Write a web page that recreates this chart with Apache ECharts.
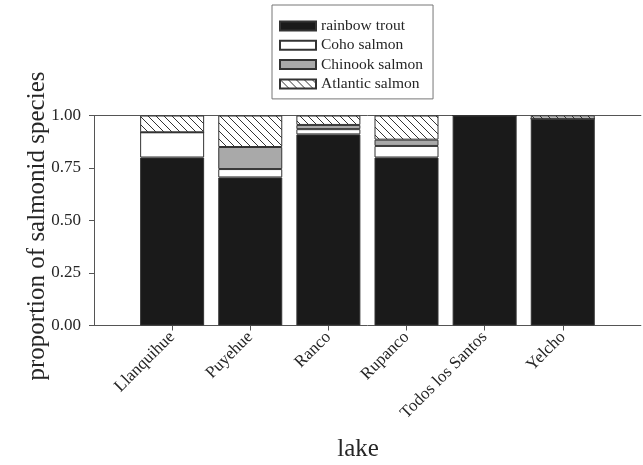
<!DOCTYPE html>
<html>
<head>
<meta charset="utf-8">
<script src="https://cdn.jsdelivr.net/npm/echarts@6/dist/echarts.min.js"></script>
<style>
  html, body { margin: 0; padding: 0; background: #fff; }
  #chart { width: 643px; height: 465px; }
</style>
</head>
<body>
<div id="chart"></div>
<script>
// Lakes and the proportion of each salmonid species caught in them
const lakes = ['Llanquihue', 'Puyehue', 'Ranco', 'Rupanco', 'Todos los Santos', 'Yelcho'];
const rainbowTrout = [0.80, 0.705, 0.91, 0.80, 1.00, 0.985];
const cohoSalmon = [0.12, 0.04, 0.025, 0.055, 0, 0];
const chinookSalmon = [0, 0.105, 0.02, 0.03, 0, 0];
const atlanticSalmon = [0.08, 0.15, 0.045, 0.115, 0, 0.015];
const yTicks = [0, 0.25, 0.5, 0.75, 1.0];

const FONT = "'Liberation Serif', 'Times New Roman', serif";
const TEXT = '#262626';
const LINE = '#555';

// Diagonal hatch fill for Atlantic salmon
function makeHatch() {
  const c = document.createElement('canvas');
  const s = 8;
  c.width = s; c.height = s;
  const g = c.getContext('2d');
  g.fillStyle = '#fff';
  g.fillRect(0, 0, s, s);
  g.strokeStyle = '#333';
  g.lineWidth = 1;
  g.beginPath();
  g.moveTo(0, 0); g.lineTo(s, s);
  g.moveTo(-2, s - 2); g.lineTo(2, s + 2);
  g.moveTo(s - 2, -2); g.lineTo(s + 2, 2);
  g.stroke();
  return c;
}
const hatch = { image: makeHatch(), repeat: 'repeat' };

// Empty slot at each end so the lakes sit one unit in from the frame
const cats = [''].concat(lakes, ['']);
const pad = arr => ['-'].concat(arr, ['-']);

function barSeries(name, values, color) {
  return {
    name: name,
    type: 'bar',
    stack: 'total',
    barWidth: 64,
    data: pad(values),
    itemStyle: { color: color, borderColor: '#333', borderWidth: 1 }
  };
}

const chart = echarts.init(document.getElementById('chart'));
chart.setOption({
  animation: false,
  backgroundColor: '#fff',
  textStyle: { fontFamily: FONT, color: TEXT },
  grid: { left: 94, top: 115.5, width: 551, height: 210 },
  legend: {
    orient: 'vertical',
    left: 272, top: 5,
    padding: [13, 10, 7, 7],
    itemWidth: 36, itemHeight: 9, itemGap: 3.3,
    borderColor: '#777', borderWidth: 1,
    icon: 'rect',
    textStyle: { fontFamily: FONT, fontSize: 15.5, lineHeight: 15.5, color: TEXT },
    data: ['rainbow trout', 'Coho salmon', 'Chinook salmon', 'Atlantic salmon']
  },
  xAxis: [
    {
      type: 'category',
      data: cats,
      boundaryGap: false,
      axisLine: { lineStyle: { color: LINE, width: 1 } },
      axisTick: {
        length: 5,
        lineStyle: { color: LINE },
        interval: (i, v) => v !== ''
      },
      axisLabel: {
        rotate: 45, margin: 9, fontSize: 17, fontFamily: FONT, color: TEXT,
        interval: 0
      },
      splitLine: { show: false }
    },
    {
      // top edge of the frame
      type: 'category',
      data: cats,
      boundaryGap: false,
      position: 'top',
      axisLine: { show: true, lineStyle: { color: LINE, width: 1 } },
      axisTick: { show: false },
      axisLabel: { show: false },
      splitLine: { show: false }
    }
  ],
  yAxis: {
    type: 'value',
    min: yTicks[0], max: yTicks[yTicks.length - 1], interval: 0.25,
    axisLine: { show: true, lineStyle: { color: LINE, width: 1 } },
    axisTick: { show: true, length: 5, lineStyle: { color: LINE } },
    axisLabel: {
      margin: 13, fontSize: 17, fontFamily: FONT, color: TEXT,
      formatter: v => v.toFixed(2)
    },
    splitLine: { show: false }
  },
  graphic: [
    {
      type: 'text', x: 37.5, y: 226, rotation: Math.PI / 2,
      style: {
        text: 'proportion of salmonid species', font: '25px ' + FONT, fill: TEXT,
        align: 'center', verticalAlign: 'middle'
      }
    },
    {
      type: 'text', x: 358, y: 449,
      style: {
        text: 'lake', font: '25px ' + FONT, fill: TEXT,
        align: 'center', verticalAlign: 'middle'
      }
    }
  ],
  series: [
    barSeries('rainbow trout', rainbowTrout, '#1a1a1a'),
    barSeries('Coho salmon', cohoSalmon, '#ffffff'),
    barSeries('Chinook salmon', chinookSalmon, '#a9a9a9'),
    barSeries('Atlantic salmon', atlanticSalmon, hatch)
  ]
});
</script>
</body>
</html>
